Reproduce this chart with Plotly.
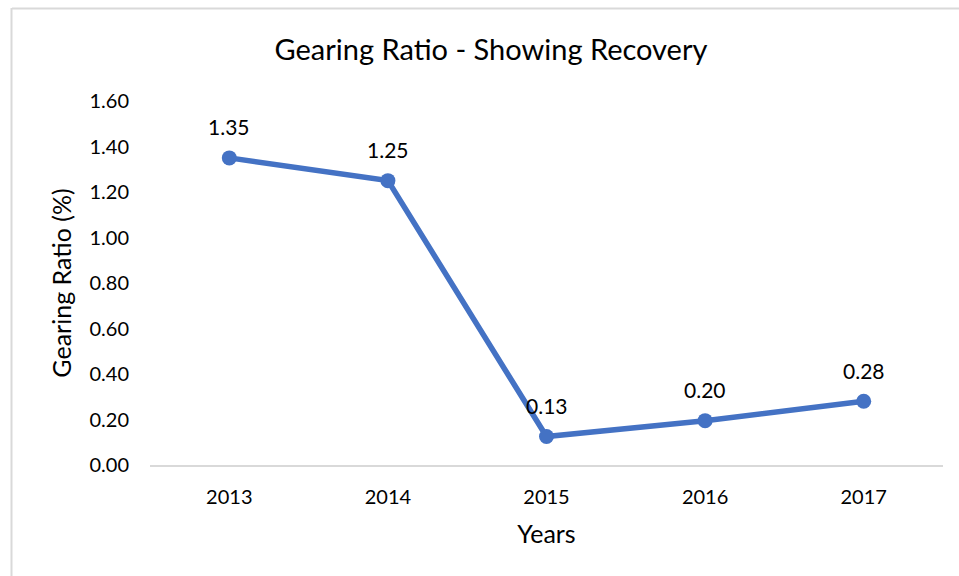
import plotly.graph_objects as go

years = ["2013", "2014", "2015", "2016", "2017"]
gearing = [1.35, 1.25, 0.125, 0.195, 0.28]
labels = ["1.35", "1.25", "0.13", "0.20", "0.28"]
y_ticks = [0.0, 0.2, 0.4, 0.6, 0.8, 1.0, 1.2, 1.4, 1.6]

W, H = 959, 576
ml, mr, mt, mb = 150, 16, 101, 111
pw, ph = W - ml - mr, H - mt - mb

def px_x(p):
    return (p - ml) / pw

def px_y(p):
    return (H - mb - p) / ph

FONT = "Lato, Carlito, Calibri, sans-serif"
col = "#4472C4"

fig = go.Figure()
fig.add_trace(go.Scatter(
    x=years, y=gearing, mode="lines+markers",
    line=dict(color=col, width=5.5),
    marker=dict(color=col, size=15),
    cliponaxis=False, showlegend=False,
))

annotations = [
    dict(x=i, y=yv, xref="x", yref="y", text=t, showarrow=False,
         yshift=31, font=dict(family=FONT, size=21, color="#000000"))
    for i, (yv, t) in enumerate(zip(gearing, labels))
]

fig.update_layout(
    width=W, height=H,
    margin=dict(l=ml, r=mr, t=mt, b=mb),
    paper_bgcolor="white", plot_bgcolor="white",
    font=dict(family=FONT, color="#000000"),
    title=dict(text="Gearing Ratio - Showing Recovery", x=px_x(491), xref="paper",
               y=1 - 50 / H, yanchor="middle", xanchor="center",
               font=dict(family=FONT, size=29, color="#000000")),
    xaxis=dict(type="category", range=[-0.5, 4.5], showgrid=False,
               showline=True, linecolor="#D9D9D9", linewidth=2,
               ticks="", tickfont=dict(size=20), ticklabelstandoff=13,
               title=dict(text="Years", font=dict(size=25), standoff=18),
               zeroline=False),
    yaxis=dict(range=[0, 1.6], tickvals=y_ticks, tickformat=".2f",
               showgrid=False, showline=False, zeroline=False, ticks="",
               tickfont=dict(size=20), ticklabelstandoff=20,
               title=dict(text="Gearing Ratio (%)", font=dict(size=25), standoff=10)),
    annotations=annotations,
    shapes=[
        dict(type="line", xref="paper", yref="paper",
             x0=px_x(12), x1=px_x(W + 5), y0=px_y(8.5), y1=px_y(8.5),
             line=dict(color="#D9D9D9", width=2)),
        dict(type="line", xref="paper", yref="paper",
             x0=px_x(11.5), x1=px_x(11.5), y0=px_y(8), y1=px_y(H + 5),
             line=dict(color="#D9D9D9", width=2)),
    ],
)

fig.write_html("out.html")
